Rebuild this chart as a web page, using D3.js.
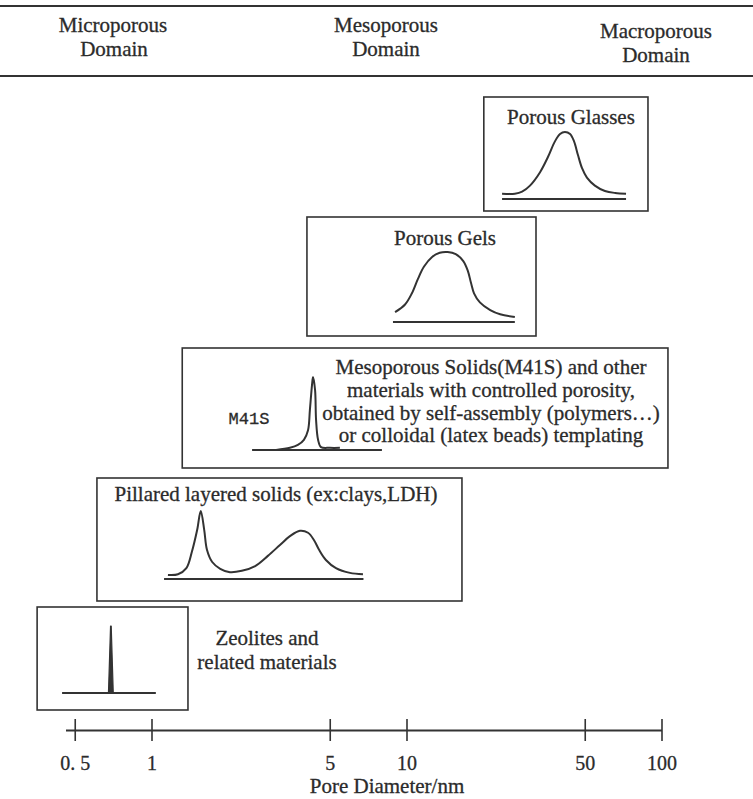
<!DOCTYPE html>
<html><head><meta charset="utf-8">
<script src="https://cdn.jsdelivr.net/npm/d3@7/dist/d3.min.js"></script>
<style>body{margin:0;background:#fff}</style>
</head><body><svg id="c" width="753" height="799"></svg>
<script>
// ---------- data ----------
const domainLine1 = ["Microporous", "Mesoporous", "Macroporous"];
const domainLine2 = ["Domain", "Domain", "Domain"];
const tickValues = [0.5, 1, 5, 10, 50, 100];
const tickLabels = ["0. 5", "1", "5", "10", "50", "100"];
const axisTitle = "Pore Diameter/nm";
const materials = ["Porous Glasses", "Porous Gels", "M41S", "Pillared", "Zeolites"];
// pore size span (nm) covered by each frame
const frameRanges = [[20.1, 88.5], [4.07, 32.2], [1.32, 106], [0.611, 16.5], [0.356, 1.39]];
// baseline span (nm) of each distribution sketch
const baselineRanges = [[23.7, 72.6], [8.85, 26.6], [2.48, 8.01], [1.12, 6.78], [0.446, 1.04]];
// distribution sketches: pore diameter (nm) and relative intensity
const glassesNm = [23.7, 26.6, 28.4, 30.5, 33.4, 35.9, 38.2, 40.0, 41.8, 43.8, 45.4, 47.0, 48.8, 51.0, 54.8, 60.0, 65.8, 72.6];
const glassesI  = [0.08, 0.08, 0.11, 0.2, 0.4, 0.63, 0.86, 0.97, 1, 0.97, 0.86, 0.66, 0.46, 0.32, 0.2, 0.12, 0.09, 0.08];
const gelsNm = [9.02, 9.87, 10.5, 11.1, 11.7, 12.6, 13.5, 14.5, 15.6, 16.7, 17.4, 17.9, 18.4, 19.4, 21.3, 23.3, 26.6];
const gelsI  = [0.14, 0.25, 0.41, 0.62, 0.79, 0.93, 0.99, 1, 0.97, 0.87, 0.73, 0.56, 0.41, 0.28, 0.17, 0.11, 0.07];
const m41sNm = [3.08, 3.49, 3.75, 3.96, 4.11, 4.18, 4.26, 4.30, 4.38, 4.42, 4.50, 4.62, 5.01, 5.48];
const m41sI  = [0, 0.03, 0.07, 0.14, 0.27, 0.55, 0.89, 1, 0.82, 0.41, 0.14, 0.04, 0.03, 0.03];
const pillaredNm = [1.16, 1.27, 1.37, 1.44, 1.51, 1.56, 1.61, 1.65, 1.73, 1.86, 2.03, 2.26, 2.55, 2.86, 3.19, 3.49, 3.82, 4.11, 4.34, 4.54, 4.83, 5.29, 6.00, 6.75];
const pillaredI  = [0.06, 0.07, 0.16, 0.4, 0.72, 1, 0.72, 0.43, 0.25, 0.15, 0.1, 0.12, 0.19, 0.34, 0.5, 0.63, 0.71, 0.68, 0.57, 0.43, 0.28, 0.16, 0.09, 0.07];
const zeoliteNm = [0.678, 0.691, 0.695, 0.708];
const zeoliteI  = [0, 1, 1, 0];
const sketchNm = [glassesNm, gelsNm, m41sNm, pillaredNm, zeoliteNm];
const sketchI  = [glassesI, gelsI, m41sI, pillaredI, zeoliteI];
const materialText = [
  ["Porous Glasses"],
  ["Porous Gels"],
  ["Mesoporous Solids(M41S) and other", "materials with controlled porosity,", "obtained by self-assembly (polymers\u2026)", "or colloidal (latex beads) templating"],
  ["Pillared layered solids (ex:clays,LDH)"],
  ["Zeolites and", "related materials"]
];
const sketchTag = ["", "", "M41S", "", ""];

// ---------- layout ----------
const W = 753, H = 799;
const INK = "#333", TXT = "#2b2b2b";
const SERIF = "'Liberation Serif','Times New Roman',serif";
const FS = 21;
const frameTop    = [97, 217, 348, 478, 607];
const frameHeight = [114, 119, 120, 123, 103];
const baseOff = [102, 105, 102, 101, 86];   // baseline y offset from frame top
const peakOff = [35, 35, 29, 33, 19];       // peak y offset from frame top
const textPos = [   // [x-center, first line center y, line step]
  [571, 117, 0], [445, 238, 0], [491, 367, 22.7], [276, 494, 0], [267, 638, 24]
];
const tagPos = [null, null, [249, 418], null, null];

const svg = d3.select("#c");
svg.append("rect").attr("width", W).attr("height", H).attr("fill", "#fff");

const x = d3.scaleLog().domain([0.46, 100]).range([65.5, 661.5]);
const axisY = 730;

function txt(sel, s, px, py, size) {
  return sel.append("text").attr("x", px).attr("y", py).attr("dy", "0.35em")
    .attr("text-anchor", "middle").attr("font-family", SERIF).attr("font-size", size)
    .attr("fill", TXT).attr("stroke", TXT).attr("stroke-width", 0.3).text(s);
}

// header
svg.append("line").attr("x1", 0).attr("x2", W).attr("y1", 6).attr("y2", 6)
  .attr("stroke", INK).attr("stroke-width", 2);
svg.append("line").attr("x1", 0).attr("x2", W).attr("y1", 76).attr("y2", 76)
  .attr("stroke", INK).attr("stroke-width", 2);
const headX = [[113, 114], [386, 386], [656, 656]];
const headY = [[25, 49], [25, 49], [31, 55]];
domainLine1.forEach((t, i) => {
  txt(svg, t, headX[i][0], headY[i][0], FS);
  txt(svg, domainLine2[i], headX[i][1], headY[i][1], FS);
});

// frames and sketches
materials.forEach((m, i) => {
  const g = svg.append("g");
  const x0 = x(frameRanges[i][0]), x1 = x(frameRanges[i][1]);
  g.append("rect").attr("x", x0).attr("y", frameTop[i]).attr("width", x1 - x0).attr("height", frameHeight[i])
    .attr("fill", "none").attr("stroke", INK).attr("stroke-width", 1.6);
  const y = d3.scaleLinear().domain([0, 1]).range([frameTop[i] + baseOff[i], frameTop[i] + peakOff[i]]);
  g.append("line").attr("x1", x(baselineRanges[i][0])).attr("x2", x(baselineRanges[i][1]))
    .attr("y1", y(0)).attr("y2", y(0)).attr("stroke", INK).attr("stroke-width", 2);
  const pts = sketchNm[i].map((d, k) => [d, sketchI[i][k]]);
  const line = d3.line().x(d => x(d[0])).y(d => y(d[1]))
    .curve(i === 4 ? d3.curveLinear : d3.curveCatmullRom.alpha(0.5));
  g.append("path").attr("d", line(pts)).attr("fill", i === 4 ? INK : "none")
    .attr("stroke", INK).attr("stroke-width", i === 4 ? 1.2 : 2).attr("stroke-linejoin", "round");
  const tp = textPos[i];
  materialText[i].forEach((t, k) => txt(g, t, tp[0], tp[1] + k * tp[2], FS));
  if (sketchTag[i]) {
    g.append("text").attr("x", tagPos[i][0]).attr("y", tagPos[i][1]).attr("dy", "0.35em")
      .attr("text-anchor", "middle").attr("font-family", "'Liberation Mono','DejaVu Sans Mono',monospace")
      .attr("font-size", 17).attr("fill", TXT).attr("stroke", TXT).attr("stroke-width", 0.3).text(sketchTag[i]);
  }
});

// axis
const axis = d3.axisBottom(x).tickValues(tickValues).tickFormat((d, i) => tickLabels[i]).tickSizeOuter(0);
const ag = svg.append("g").attr("transform", `translate(0,${axisY})`).call(axis);
ag.select(".domain").attr("stroke", INK).attr("stroke-width", 1.8);
ag.selectAll(".tick line").attr("y1", -11).attr("y2", 11).attr("stroke", INK).attr("stroke-width", 1.6);
ag.selectAll(".tick text").attr("y", 33).attr("dy", "0.35em").attr("font-family", SERIF)
  .attr("font-size", 20).attr("fill", TXT).attr("stroke", TXT).attr("stroke-width", 0.3);
txt(svg, axisTitle, 387, 786, 21);
</script>
</body></html>
